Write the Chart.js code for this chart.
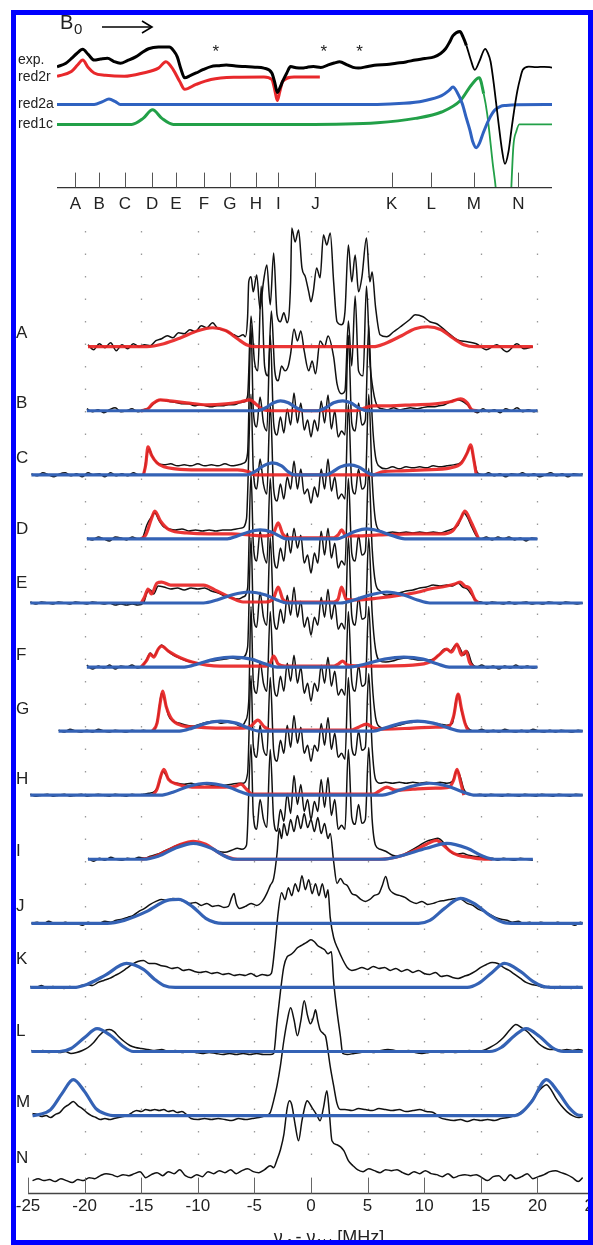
<!DOCTYPE html>
<html>
<head>
<meta charset="utf-8">
<script src="https://cdn.jsdelivr.net/npm/chart.js@4.4.0/dist/chart.umd.min.js"></script>
<style>
html,body{margin:0;padding:0;background:#fff;overflow:hidden;width:593px;height:1245px}
#top{position:absolute;left:0;top:0}
#main{position:absolute;left:0;top:215px}
#frame{position:absolute;left:11px;top:10px;width:582px;height:1235px;box-sizing:border-box;border:5px solid #0000ff;pointer-events:none}
</style>
</head>
<body>
<canvas id="top" width="593" height="230"></canvas>
<canvas id="main" width="612" height="1045"></canvas>
<div id="frame"></div>
<script>
// ---- EPR panel (field axis 0..100 across the sweep) ----
const fieldTicks = [3.7, 8.5, 13.7, 19.2, 24.0, 29.7, 34.9, 40.2, 44.7, 52.2, 67.6, 75.6, 84.2, 93.2];
const fieldLabels = ['A','B','C','D','E','F','G','H','I','J','K','L','M','N'];
const starFields = [32.1, 53.9, 61.1];
const traceNames = ['exp.', 'red2r', 'red2a', 'red1c'];

const eprExp = [[0,64.4],[1.8,66.3],[3.0,69],[4.0,71.5],[5.2,73.7],[6.3,71],[7.5,68.0],[8.8,68.5],[10.2,68.9],[11.5,67.2],[12.8,66.3],[14.3,67.8],[15.9,69.7],[17.2,72.0],[18.5,74.0],[20.5,74.9],[22.7,74.9],[23.6,72.8],[24.3,69.7],[25.0,63.5],[25.8,58.5],[27.0,59.8],[28.1,61.1],[29.6,63.0],[31.1,64.5],[32.6,65.0],[34.2,65.4],[36.1,64.8],[38.0,64.5],[40.0,64.2],[41.8,63.7],[43.4,61.1],[44.0,56],[44.5,50.7],[45.0,53],[45.6,56.7],[46.4,61],[47.2,64.5],[48.3,63.9],[49.5,63.7],[50.6,64.2],[51.8,64.5],[53.3,64.0],[54.8,65.4],[56.0,66.4],[57.1,67.1],[58.6,65.4],[59.8,64.1],[60.9,63.7],[62.8,64.6],[64.7,65.4],[66.6,65.6],[68.5,66.3],[70.5,67.0],[72.4,68.0],[74.3,68.8],[76.2,69.7],[77.5,71.5],[78.5,74.0],[79.3,77.5],[80.0,81.0],[81.4,83.2],[82.0,80.5],[82.7,75.8],[83.6,68],[84.4,62.8],[85.3,67.1],[86.5,74.0],[87.0,72],[87.6,67.1],[88.4,52],[89.2,34.3],[89.9,20],[90.5,12.6],[91.2,19],[91.8,30.8],[92.4,42],[93.0,51.6],[93.6,58.5],[94.1,62.8],[95.3,64.5],[96.8,64.2],[98.4,64.4],[100,64.0]];
const eprRed2r = [[0,59.3],[2.9,61.9],[4.2,65.5],[5.2,68.0],[6.3,64.0],[7.5,61.1],[9.8,59.9],[13.6,59.3],[17.4,61.1],[20.5,63.7],[22.0,67.1],[23.5,62.8],[24.8,56.5],[25.8,52.4],[28.1,55.0],[31.1,57.6],[35.7,58.8],[41.8,59.0],[43.4,57.6],[44.0,52],[44.5,46.4],[45.0,51],[45.6,56.7],[47.9,59.0],[53.1,59.0]];
const eprRed2a = [[0,44.3],[7.5,44.3],[9.2,45.8],[10.5,47.2],[11.8,45.8],[12.8,44.3],[64.7,44.3],[70,44.9],[74,46.2],[77.7,49.0],[79.2,51.8],[80.0,53.6],[80.8,51],[81.9,44.6],[82.7,37],[83.4,30.8],[84.0,24.5],[84.7,21.3],[85.4,24],[86.1,29.1],[87.2,36],[88.4,41.2],[89.6,43.3],[90.7,43.8],[93,44.2],[100,44.3]];
const eprRed1c = [[0,33.7],[15.1,33.7],[17.4,36.9],[19.3,41.5],[21.2,36.9],[23.5,33.7],[49.5,33.7],[64.7,34.6],[72.4,36.9],[77.7,40.3],[81.5,46.4],[83.8,55.0],[85.3,58.5],[86.2,50],[86.9,39.4],[88.0,13.5],[88.8,-5],[89.6,-40],[90.6,-60],[91.2,-35],[91.7,-5],[92.2,22.1],[92.8,30],[93.4,33.7],[100,33.7]];

// ---- ENDOR spectra, MHz vs. intensity above each baseline ----
const rowLabels = fieldLabels;

const expA = [[-19.7,2],[-19.2,-3],[-18.7,3],[-18.2,-1],[-17.7,4],[-17.2,-4],[-16.7,2],[-16.2,-2],[-15.7,3],[-15.2,0],[-14.7,2],[-14.2,1],[-13.7,6],[-13.2,8],[-12.7,11],[-12.2,9],[-11.7,14],[-11.2,13],[-10.7,17],[-10.2,15],[-9.7,21],[-9.2,19],[-8.7,24],[-8.2,18],[-7.7,17],[-7.2,14],[-6.8,12],[-6.4,10],[-6.0,12],[-5.8,10],[-5.6,30],[-5.5,65],[-5.3,70],[-5.1,55],[-4.8,72],[-4.5,38],[-4.2,65],[-3.9,82],[-3.6,42],[-3.3,94],[-3.0,32],[-2.7,25],[-2.4,34],[-2.1,24],[-1.8,65],[-1.7,119],[-1.4,105],[-1.1,117],[-0.8,79],[-0.5,70],[-0.2,55],[0,45],[0.2,55],[0.5,79],[0.8,69],[1.1,112],[1.4,102],[1.7,114],[2.0,65],[2.3,25],[2.7,22],[3.0,35],[3.3,102],[3.6,65],[3.9,92],[4.2,55],[4.5,70],[4.9,109],[5.2,65],[5.4,75],[5.7,40],[6.1,12],[6.7,10],[7.3,15],[7.9,20],[8.7,27],[9.2,32],[9.9,30],[10.5,25],[11.1,23],[12.0,15],[12.9,7],[13.8,5],[14.6,3],[15.5,-3],[16.4,2],[17.3,-5],[18.2,3],[18.8,-2],[19.6,0]];
const redA = [[-19.7,0],[-14.5,0],[-13,3],[-11.5,9],[-10,16],[-8.7,19],[-7.5,16],[-6.5,8],[-5.7,2],[-5,0],[5.5,0],[6.5,3],[8,11],[9.2,18],[10.3,20],[11.5,17],[12.5,9],[13.5,2],[14.5,0],[19.6,0]];

const expB = [[-19.8,2],[-19.3,-1],[-18.8,1],[-18.3,-2],[-17.8,1],[-17.3,3],[-16.8,-1],[-16.3,0],[-15.8,2],[-15.3,-1],[-14.8,1],[-14.3,3],[-13.8,8],[-13.3,11],[-12.8,10],[-12.3,9],[-11.8,8],[-11.3,7],[-10.8,7],[-10.3,5],[-9.8,6],[-9.3,5],[-8.8,4],[-8.3,5],[-7.8,5],[-7.3,6],[-6.8,6],[-6.3,8],[-5.9,9],[-5.6,15],[-5.3,95],[-5.0,50],[-4.7,40],[-4.4,125],[-4.1,45],[-3.8,35],[-3.5,100],[-3.2,40],[-2.9,30],[-2.6,45],[-2.3,40],[-2.0,45],[-1.8,57],[-1.5,82],[-1.2,70],[-0.9,80],[-0.6,60],[-0.2,40],[0.1,50],[0.4,37],[0.8,70],[1.2,64],[1.5,75],[2.0,54],[2.3,27],[2.7,17],[3.0,20],[3.3,90],[3.6,45],[3.9,115],[4.2,40],[4.6,35],[4.9,125],[5.2,50],[5.5,20],[5.9,4],[6.3,2],[6.8,1],[7.3,3],[7.8,1],[8.3,2],[8.8,3],[9.3,2],[9.8,3],[10.3,4],[10.8,4],[11.3,5],[11.8,6],[12.3,9],[12.8,11],[13.3,10],[13.8,6],[14.2,1],[14.7,-2],[15.2,2],[15.7,-1],[16.2,1],[16.7,-2],[17.2,2],[17.7,0],[18.2,3],[18.7,-1],[19.2,1],[19.7,-1],[20,1]];
const redB = [[-15,0],[-14.4,2],[-14,7],[-13.3,11],[-12.5,10],[-11,8],[-9.2,6],[-7.5,7],[-6.2,9],[-5.4,11],[-4.8,6],[-4.2,1],[-3.5,0],[4.0,0],[4.8,3],[5.5,5],[7,5],[9,6],[11,7],[12.3,9],[13.2,12],[13.8,8],[14.2,1],[14.7,0]];
const blueB = [[-19.8,0],[-4.8,0],[-4.0,3],[-3.3,8],[-2.7,10],[-2.0,8],[-1.3,3],[-0.6,0],[0.6,0],[1.3,3],[2.0,8],[2.8,10],[3.5,8],[4.2,3],[5.0,0],[20,0]];

const expC = [[-24.7,1],[-24.2,-1],[-23.7,2],[-23.2,0],[-22.7,-2],[-22.2,1],[-21.7,2],[-21.2,-1],[-20.7,1],[-20.2,-2],[-19.7,2],[-19.2,0],[-18.7,1],[-18.2,-2],[-17.7,2],[-17.2,-1],[-16.7,1],[-16.2,-1],[-15.7,2],[-15.2,0],[-14.8,1],[-14.5,20],[-14.3,26],[-14.0,18],[-13.6,12],[-13.0,10],[-12.4,11],[-11.8,9],[-11.2,10],[-10.6,9],[-10.0,11],[-9.4,9],[-8.8,10],[-8.2,9],[-7.6,11],[-7.0,9],[-6.4,10],[-5.9,12],[-5.6,22],[-5.3,150],[-5.1,65],[-4.8,48],[-4.5,78],[-4.2,52],[-3.9,44],[-3.6,140],[-3.3,52],[-3.0,40],[-2.7,58],[-2.4,42],[-2.1,66],[-1.8,50],[-1.5,82],[-1.2,52],[-0.9,72],[-0.6,45],[-0.3,55],[0,38],[0.3,55],[0.6,44],[0.9,74],[1.2,52],[1.5,80],[1.8,46],[2.1,64],[2.4,38],[2.7,44],[3.0,40],[3.3,140],[3.6,52],[3.9,44],[4.2,72],[4.5,50],[4.8,55],[5.1,150],[5.4,58],[5.7,18],[6.1,8],[6.6,6],[7.2,8],[7.8,6],[8.4,8],[9.0,7],[9.6,8],[10.2,7],[10.8,9],[11.4,8],[12.0,9],[12.6,10],[13.2,12],[13.7,20],[14.1,28],[14.4,15],[14.7,2],[15.2,0],[15.7,2],[16.2,-1],[16.7,1],[17.2,-2],[17.7,1],[18.2,0],[18.7,2],[19.2,-1],[19.7,1],[20.2,-2],[20.7,0],[21.2,2],[21.7,-1],[22.2,1],[22.7,-2],[23.2,1],[23.7,0],[24.0,1]];
const redC = [[-14.8,0],[-14.6,10],[-14.4,28],[-14.1,20],[-13.6,12],[-13.0,8],[-12,6],[-10,5],[-8,5],[-6.5,5],[-5.5,3],[-5,0],[5.5,0],[6.3,3],[8,4],[10,5],[12.3,7],[13.3,12],[13.8,22],[14.1,30],[14.4,14],[14.6,0]];
const blueC = [[-24.7,0],[-5.7,0],[-5.0,3],[-4.2,9],[-3.4,12],[-2.6,9],[-2.0,3],[-1.5,0],[1.3,0],[1.9,3],[2.6,8],[3.4,10],[4.2,8],[4.9,3],[5.5,0],[24,0]];

const expD = [[-19.8,1],[-19.3,-1],[-18.8,2],[-18.3,0],[-17.8,-2],[-17.3,2],[-16.8,1],[-16.3,-1],[-15.8,2],[-15.3,0],[-14.9,1],[-14.5,14],[-14.1,22],[-13.8,26],[-13.4,18],[-13.0,12],[-12.5,10],[-12.0,9],[-11.4,10],[-10.8,8],[-10.2,9],[-9.6,8],[-9.0,9],[-8.4,8],[-7.8,9],[-7.2,9],[-6.6,10],[-6.1,11],[-5.7,20],[-5.3,145],[-5.1,70],[-4.8,50],[-4.5,80],[-4.2,55],[-3.9,45],[-3.6,135],[-3.3,50],[-3.0,38],[-2.7,55],[-2.4,40],[-2.1,62],[-1.8,50],[-1.5,78],[-1.2,50],[-0.9,70],[-0.6,45],[-0.3,50],[0,36],[0.3,52],[0.6,42],[0.9,70],[1.2,50],[1.5,80],[1.8,48],[2.1,62],[2.4,40],[2.7,45],[3.0,40],[3.3,135],[3.6,55],[3.9,45],[4.2,70],[4.5,50],[4.8,55],[5.1,145],[5.4,60],[5.7,18],[6.1,8],[6.6,6],[7.2,7],[7.8,6],[8.4,7],[9.0,6],[9.6,7],[10.2,6],[10.8,7],[11.4,6],[12.0,8],[12.5,10],[13.0,14],[13.5,26],[13.8,22],[14.2,12],[14.6,3],[15.0,0],[15.5,2],[16.0,-1],[16.5,2],[17.0,0],[17.5,2],[18.0,-1],[18.5,1],[19.0,-2],[19.5,1],[20,0]];
const redD = [[-15,0],[-14.6,4],[-14.1,20],[-13.8,28],[-13.3,18],[-12.5,9],[-11,6],[-9,5],[-7,5],[-5.5,4],[-4,3],[-3.3,6],[-2.9,16],[-2.5,5],[-2,1],[2,1],[2.4,4],[2.7,9],[3.1,3],[4,3],[6,4],[9,5],[11.5,5],[12.5,8],[13.2,20],[13.6,28],[14.1,18],[14.5,8],[14.8,0]];
const blueD = [[-19.8,0],[-7.4,0],[-6.5,3],[-5.5,7],[-4.5,9],[-3.5,7],[-2.8,3],[-2.2,0],[2.3,0],[3,3],[4,8],[4.9,10],[6,8],[7,4],[8.3,0],[20,0]];

const expE = [[-24.8,1],[-24.3,-1],[-23.8,1],[-23.3,0],[-22.8,-1],[-22.3,1],[-21.8,0],[-21.3,-1],[-20.8,1],[-20.3,0],[-19.8,-1],[-19.3,1],[-18.8,0],[-18.3,-1],[-17.8,0],[-17.3,-2],[-16.8,-1],[-16.3,-2],[-15.8,-1],[-15.3,-2],[-14.8,0],[-14.5,10],[-14.2,13],[-13.9,9],[-13.5,17],[-13.0,16],[-12.4,14],[-11.8,15],[-11.2,13],[-10.6,15],[-10.0,14],[-9.4,15],[-8.8,12],[-8.2,10],[-7.6,7],[-7.0,5],[-6.4,4],[-6.0,6],[-5.6,15],[-5.3,130],[-5.1,60],[-4.8,42],[-4.5,72],[-4.2,50],[-3.9,40],[-3.6,125],[-3.3,48],[-3.0,35],[-2.7,55],[-2.4,42],[-2.1,70],[-1.8,50],[-1.5,75],[-1.2,55],[-0.9,68],[-0.6,40],[-0.3,48],[0,30],[0.3,50],[0.6,40],[0.9,72],[1.2,48],[1.5,75],[1.8,45],[2.1,60],[2.4,35],[2.7,42],[3.0,38],[3.3,125],[3.6,50],[3.9,42],[4.2,68],[4.5,48],[4.8,52],[5.1,135],[5.4,55],[5.7,20],[6.1,12],[6.6,8],[7.2,9],[7.8,10],[8.4,12],[9.0,13],[9.6,15],[10.2,16],[10.8,18],[11.4,17],[12.0,18],[12.5,17],[13.0,20],[13.4,16],[13.8,14],[14.2,8],[14.6,2],[15.0,1],[15.5,-1],[16.0,1],[16.5,0],[17.0,-1],[17.5,1],[18.0,-1],[18.5,0],[19.0,1],[19.5,-1],[20.0,0],[20.5,-1],[21.0,1],[21.5,0],[22.0,-1],[22.5,1],[23.0,0],[23.5,-1],[24.0,0]];
const redE = [[-15,0],[-14.7,6],[-14.4,14],[-14.1,9],[-13.6,20],[-13.2,21],[-12.4,18],[-11,18],[-9.5,18],[-8.3,12],[-7,5],[-6,1],[-4,1],[-3.3,5],[-2.9,16],[-2.5,4],[-2,1],[2,1],[2.4,4],[2.7,16],[3.1,4],[4,3],[6,5],[8,8],[9.5,11],[10.5,14],[12,17],[12.7,19],[13.2,21],[13.6,17],[14.0,15],[14.5,3],[14.8,0]];
const blueE = [[-24.8,0],[-9.5,0],[-8.3,3],[-7,8],[-5.5,11],[-4,8],[-3,3],[-2.1,0],[2.6,0],[3.8,3],[5.2,8],[6.7,11],[8.2,8],[9.4,3],[10.5,0],[24,0]];

const expF = [[-19.8,2],[-19.3,-2],[-18.8,1],[-18.3,-1],[-17.8,2],[-17.3,-2],[-16.8,1],[-16.3,0],[-15.8,2],[-15.3,-1],[-14.9,1],[-14.5,8],[-14.2,14],[-13.9,11],[-13.5,18],[-13.2,22],[-12.8,18],[-12.3,13],[-11.8,10],[-11.2,7],[-10.6,5],[-10.0,4],[-9.4,5],[-8.8,6],[-8.2,7],[-7.6,8],[-7.0,9],[-6.4,8],[-6.0,10],[-5.6,20],[-5.3,130],[-5.1,55],[-4.8,40],[-4.5,75],[-4.2,50],[-3.9,42],[-3.6,130],[-3.3,50],[-3.0,38],[-2.7,58],[-2.4,44],[-2.1,72],[-1.8,52],[-1.5,80],[-1.2,50],[-0.9,66],[-0.6,40],[-0.3,50],[0,32],[0.3,50],[0.6,42],[0.9,70],[1.2,50],[1.5,78],[1.8,48],[2.1,64],[2.4,38],[2.7,44],[3.0,38],[3.3,130],[3.6,52],[3.9,42],[4.2,70],[4.5,48],[4.8,50],[5.1,130],[5.4,55],[5.7,18],[6.1,6],[6.6,5],[7.2,6],[7.8,8],[8.4,9],[9.0,8],[9.6,7],[10.2,7],[10.8,8],[11.3,12],[11.8,18],[12.3,16],[12.8,22],[13.1,20],[13.5,12],[13.8,16],[14.2,4],[14.6,0],[15.1,2],[15.6,-1],[16.1,1],[16.6,-2],[17.1,1],[17.6,-1],[18.1,2],[18.6,-1],[19.1,1],[19.6,-1],[20,0]];
const redF = [[-15,0],[-14.5,7],[-14.2,13],[-13.9,10],[-13.5,18],[-13.2,21],[-12.6,16],[-11.5,9],[-10.5,5],[-9.2,2],[-8,1],[-4,1],[-3.6,4],[-3.3,11],[-2.9,3],[-2.3,1],[2,1],[2.4,3],[2.8,6],[3.2,2],[5,1],[9,2],[10.5,5],[11.3,12],[12,18],[12.4,15],[12.9,23],[13.3,12],[13.7,16],[14.0,5],[14.3,0]];
const blueF = [[-19.8,0],[-11.2,0],[-10,3],[-8.5,8],[-6.9,10],[-5.3,8],[-4,3],[-3,0],[3.4,0],[4.8,3],[6.5,8],[8.2,10],[9.9,8],[11.2,3],[12.2,0],[20,0]];

const expG = [[-22.3,1],[-21.8,-1],[-21.3,2],[-20.8,0],[-20.3,-1],[-19.8,1],[-19.3,-1],[-18.8,2],[-18.3,0],[-17.8,-1],[-17.3,1],[-16.8,0],[-16.3,-1],[-15.8,1],[-15.3,0],[-14.8,1],[-14.3,0],[-13.8,2],[-13.5,15],[-13.2,38],[-12.9,30],[-12.6,16],[-12.2,10],[-11.6,8],[-11.0,6],[-10.4,5],[-9.8,7],[-9.2,9],[-8.6,10],[-8.0,8],[-7.4,9],[-6.8,8],[-6.2,5],[-5.8,10],[-5.5,30],[-5.3,125],[-5.1,50],[-4.8,38],[-4.5,70],[-4.2,48],[-3.9,40],[-3.6,120],[-3.3,48],[-3.0,35],[-2.7,55],[-2.4,40],[-2.1,68],[-1.8,50],[-1.5,76],[-1.2,48],[-0.9,64],[-0.6,38],[-0.3,48],[0,30],[0.3,48],[0.6,40],[0.9,66],[1.2,48],[1.5,74],[1.8,45],[2.1,60],[2.4,36],[2.7,42],[3.0,36],[3.3,120],[3.6,50],[3.9,40],[4.2,66],[4.5,45],[4.8,48],[5.1,125],[5.4,50],[5.7,14],[6.1,4],[6.6,2],[7.2,4],[7.8,6],[8.4,8],[9.0,9],[9.6,10],[10.2,9],[10.8,8],[11.4,7],[12.0,6],[12.5,8],[12.8,30],[13.0,37],[13.3,20],[13.7,6],[14.1,1],[14.6,0],[15.1,2],[15.6,-1],[16.1,1],[16.6,-1],[17.1,2],[17.6,0],[18.1,-1],[18.6,1],[19.1,-1],[19.6,2],[20.1,0],[20.6,-1],[21.1,1],[21.6,-1],[22.1,1],[22.6,0],[23.1,-1],[23.6,1],[24,0]];
const redG = [[-14,0],[-13.6,8],[-13.3,30],[-13.1,40],[-12.8,25],[-12.3,12],[-11.5,6],[-10,4],[-8,3],[-6,3],[-5.3,5],[-4.7,11],[-4.1,4],[-3.5,1],[3.5,1],[4.2,4],[4.9,7],[5.6,3],[6.5,2],[9,3],[11,4],[12.2,5],[12.6,15],[13.0,37],[13.3,22],[13.6,8],[13.9,0]];
const blueG = [[-22.3,0],[-11.6,0],[-10.5,3],[-9.2,8],[-8,10],[-6.6,8],[-5.5,3],[-4.6,0],[5.5,0],[6.5,3],[8,8],[9.4,10],[10.8,8],[12.2,3],[13.2,0],[24,0]];

const expH = [[-24.8,1],[-24.3,-1],[-23.8,0],[-23.3,1],[-22.8,-1],[-22.3,0],[-21.8,1],[-21.3,-1],[-20.8,0],[-20.3,1],[-19.8,-1],[-19.3,0],[-18.8,1],[-18.3,0],[-17.8,-1],[-17.3,1],[-16.8,0],[-16.3,-1],[-15.8,1],[-15.3,0],[-14.8,1],[-14.3,2],[-13.8,4],[-13.4,12],[-13.1,24],[-12.8,20],[-12.4,14],[-11.8,12],[-11.2,11],[-10.6,12],[-10.0,10],[-9.4,11],[-8.8,10],[-8.2,9],[-7.6,10],[-7.0,11],[-6.4,12],[-6.0,12],[-5.6,22],[-5.3,120],[-5.1,50],[-4.8,38],[-4.5,70],[-4.2,46],[-3.9,40],[-3.6,118],[-3.3,45],[-3.0,34],[-2.7,55],[-2.4,42],[-2.1,70],[-1.8,48],[-1.5,80],[-1.2,52],[-0.9,68],[-0.6,42],[-0.3,50],[0,34],[0.3,50],[0.6,44],[0.9,72],[1.2,50],[1.5,78],[1.8,46],[2.1,62],[2.4,38],[2.7,42],[3.0,36],[3.3,118],[3.6,48],[3.9,40],[4.2,64],[4.5,45],[4.8,48],[5.1,122],[5.4,48],[5.7,16],[6.1,12],[6.6,13],[7.2,12],[7.8,13],[8.4,12],[9.0,13],[9.6,12],[10.2,13],[10.8,12],[11.4,13],[12.0,12],[12.5,14],[12.9,25],[13.2,18],[13.5,6],[13.9,1],[14.4,0],[14.9,1],[15.4,-1],[15.9,1],[16.4,0],[16.9,-1],[17.4,1],[17.9,0],[18.4,-1],[18.9,1],[19.4,0],[19.9,-1],[20.4,1],[20.9,0],[21.4,-1],[21.9,1],[22.4,0],[22.9,-1],[23.4,1],[24,0]];
const redH = [[-14,0],[-13.6,6],[-13.3,18],[-13.0,26],[-12.6,16],[-11.8,11],[-10,8],[-8,8],[-6.7,9],[-6.2,11],[-5.7,6],[-5.2,1],[5.5,1],[6,4],[6.7,8],[7.5,5],[9,6],[11,7],[12.2,8],[12.6,15],[12.9,26],[13.2,14],[13.5,0]];
const blueH = [[-24.8,0],[-13.3,0],[-12.2,3],[-10.8,9],[-9.2,12],[-7.5,9],[-6.1,3],[-5.1,0],[6.3,0],[7.3,3],[8.9,9],[10.5,12],[12.1,9],[13.5,3],[14.5,0],[24,0]];

const expI = [[-19.7,1],[-19.2,-2],[-18.7,1],[-18.2,-1],[-17.7,2],[-17.2,0],[-16.7,-1],[-16.2,1],[-15.7,0],[-15.2,2],[-14.7,1],[-14.2,3],[-13.6,5],[-13.0,8],[-12.4,11],[-11.8,14],[-11.2,16],[-10.6,17],[-10.0,16],[-9.4,14],[-8.8,11],[-8.2,8],[-7.6,7],[-7.0,9],[-6.5,11],[-6.1,10],[-5.7,14],[-5.3,115],[-5.1,45],[-4.8,30],[-4.5,60],[-4.2,40],[-3.9,32],[-3.6,110],[-3.3,40],[-3.0,28],[-2.7,50],[-2.4,38],[-2.1,66],[-1.8,46],[-1.5,84],[-1.2,55],[-0.9,75],[-0.6,48],[-0.3,60],[0,40],[0.3,58],[0.6,48],[0.9,80],[1.2,52],[1.5,82],[1.8,44],[2.1,60],[2.4,30],[2.7,34],[3.0,30],[3.3,110],[3.6,42],[3.9,35],[4.2,55],[4.5,36],[4.8,40],[5.1,112],[5.4,40],[5.7,14],[6.1,10],[6.6,8],[7.2,4],[7.8,3],[8.4,6],[9.0,10],[9.6,14],[10.2,18],[10.8,20],[11.2,21],[11.6,18],[12.0,12],[12.5,6],[12.9,5],[13.4,6],[13.9,4],[14.4,3],[15.0,2],[15.5,0],[16.0,1],[16.5,-1],[17.0,1],[17.5,0],[18.0,-1],[18.5,1],[19.0,0],[19.6,-1]];
const redI = [[-15,0],[-14,2],[-12.8,8],[-11.5,15],[-10.4,18],[-9.3,15],[-8.2,7],[-7.3,2],[-6.5,0],[6,0],[7.5,2],[9,8],[10.2,15],[11.1,19],[11.7,14],[12.3,8],[13,4],[14,2],[15.5,0],[16,0]];
const blueI = [[-19.7,0],[-14.8,0],[-13.5,3],[-12,11],[-10.4,16],[-8.8,11],[-7.6,3],[-6.8,0],[6.3,0],[7.8,3],[10.2,11],[12,16],[13.8,11],[15.2,3],[16.2,0],[19.6,0]];

const expJ = [[-24.7,0],[-24.2,1],[-23.7,-1],[-23.2,2],[-22.7,0],[-22.2,-1],[-21.7,1],[-21.2,-1],[-20.7,0],[-20.2,-2],[-19.7,1],[-19.2,-1],[-18.7,0],[-18.2,2],[-17.7,1],[-17.2,3],[-16.7,4],[-16.2,6],[-15.7,8],[-15.2,12],[-14.7,15],[-14.2,19],[-13.7,22],[-13.2,24],[-12.7,23],[-12.2,25],[-11.7,24],[-11.2,22],[-10.7,20],[-10.2,21],[-9.7,18],[-9.2,20],[-8.7,17],[-8.2,18],[-7.7,16],[-7.3,17],[-7.0,26],[-6.8,30],[-6.6,20],[-6.3,15],[-5.8,17],[-5.3,20],[-4.8,18],[-4.3,22],[-3.9,30],[-3.6,38],[-3.3,45],[-3.0,70],[-2.8,95],[-2.6,85],[-2.4,100],[-2.1,88],[-1.8,104],[-1.5,92],[-1.2,108],[-0.9,95],[-0.6,110],[-0.3,96],[0,104],[0.3,92],[0.6,106],[0.9,90],[1.2,100],[1.5,85],[1.7,90],[2.0,62],[2.3,40],[2.6,45],[2.9,40],[3.2,38],[3.6,30],[4.0,28],[4.4,24],[4.8,22],[5.2,24],[5.6,28],[6.0,30],[6.3,38],[6.6,47],[6.9,35],[7.3,30],[7.8,28],[8.3,26],[8.8,22],[9.3,20],[9.8,22],[10.3,19],[10.8,20],[11.3,22],[11.8,23],[12.3,24],[12.8,25],[13.3,24],[13.8,20],[14.3,18],[14.8,14],[15.3,12],[15.8,9],[16.3,6],[16.8,4],[17.3,3],[17.8,1],[18.3,2],[18.8,0],[19.3,1],[19.8,-1],[20.3,1],[20.8,0],[21.3,-1],[21.8,1],[22.3,-1],[22.8,0],[23.3,-2],[23.8,1],[24,0]];
const blueJ = [[-24.7,0],[-18,0],[-16.5,3],[-14.5,12],[-12.7,23],[-11.7,24],[-10.5,17],[-9.3,5],[-8.5,1],[-7.8,0],[9.5,0],[10.5,3],[11.8,15],[13.2,25],[14.4,20],[15.8,8],[17,1],[18,0],[24,0]];

const expK = [[-24.8,1],[-24.3,0],[-23.8,2],[-23.3,-1],[-22.8,1],[-22.3,0],[-21.8,-1],[-21.3,1],[-20.8,0],[-20.3,2],[-19.8,3],[-19.3,2],[-18.8,5],[-18.3,7],[-17.8,9],[-17.3,12],[-16.8,15],[-16.3,19],[-15.8,23],[-15.3,26],[-14.8,27],[-14.3,24],[-13.8,24],[-13.3,22],[-12.8,21],[-12.3,19],[-11.8,20],[-11.3,17],[-10.8,18],[-10.3,16],[-9.8,15],[-9.3,16],[-8.8,14],[-8.3,15],[-7.8,13],[-7.3,14],[-6.8,12],[-6.3,13],[-5.8,12],[-5.3,14],[-4.8,11],[-4.3,13],[-3.8,12],[-3.5,14],[-3.2,40],[-2.9,75],[-2.6,95],[-2.3,88],[-2.0,100],[-1.7,92],[-1.4,104],[-1.1,96],[-0.8,112],[-0.5,98],[-0.2,108],[0.1,94],[0.4,104],[0.7,92],[1.0,104],[1.3,90],[1.5,98],[1.7,70],[2.0,50],[2.4,38],[2.8,28],[3.2,20],[3.6,17],[4.0,18],[4.5,20],[5.0,18],[5.5,21],[6.0,19],[6.5,20],[7.0,17],[7.5,19],[8.0,16],[8.5,18],[9.0,15],[9.5,17],[10.0,14],[10.5,13],[11.0,15],[11.5,11],[12.0,12],[12.5,10],[13.0,9],[13.5,11],[14.0,13],[14.5,16],[15.0,20],[15.5,23],[16.0,25],[16.5,24],[17.0,20],[17.5,17],[18.0,13],[18.5,9],[19.0,5],[19.5,3],[20.0,2],[20.5,0],[21.0,1],[21.5,-1],[22.0,1],[22.5,0],[23.0,-1],[23.5,1],[24.0,-1]];
const blueK = [[-24.8,0],[-21,0],[-19.8,3],[-18.2,12],[-16.3,24],[-14.8,18],[-13.8,8],[-13,2],[-12,0],[13.8,0],[14.8,4],[16,15],[17.1,24],[18.5,16],[19.6,6],[20.5,1],[21.5,0],[24,0]];

const expL = [[-24.7,1],[-24.2,0],[-23.7,1],[-23.2,-1],[-22.7,0],[-22.2,-1],[-21.7,0],[-21.2,-2],[-20.7,-1],[-20.2,1],[-19.7,4],[-19.2,9],[-18.7,16],[-18.2,21],[-17.8,22],[-17.4,20],[-17.0,15],[-16.5,10],[-16.0,6],[-15.5,4],[-15.0,3],[-14.4,2],[-13.8,1],[-13.2,2],[-12.6,0],[-12.0,1],[-11.4,-1],[-10.8,0],[-10.2,-1],[-9.6,-2],[-9.0,-1],[-8.4,-2],[-7.8,-3],[-7.2,-2],[-6.6,-3],[-6.0,-2],[-5.4,-3],[-4.8,-2],[-4.2,-3],[-3.6,-3],[-3.3,-2],[-3.0,30],[-2.7,60],[-2.4,85],[-2.1,95],[-1.8,97],[-1.5,100],[-1.2,104],[-0.9,106],[-0.6,108],[-0.3,110],[0,112],[0.3,110],[0.6,106],[0.9,104],[1.2,102],[1.5,98],[1.8,100],[2.0,70],[2.3,40],[2.6,15],[2.8,-2],[3.2,-3],[3.8,-2],[4.4,-1],[5.0,0],[5.6,-1],[6.2,1],[6.8,2],[7.4,1],[8.0,0],[8.6,1],[9.2,-1],[9.8,-2],[10.4,-1],[11.0,0],[11.6,-1],[12.2,0],[12.8,-1],[13.4,0],[14.0,1],[14.6,0],[15.2,1],[15.8,4],[16.4,8],[17.0,14],[17.6,22],[18.1,27],[18.6,24],[19.1,20],[19.6,14],[20.1,8],[20.6,4],[21.1,2],[21.6,2],[22.1,1],[22.6,2],[23.1,1],[23.6,2],[24,1]];
const blueL = [[-24.7,0],[-22.2,0],[-21.2,3],[-20,14],[-18.9,23],[-17.7,16],[-16.6,5],[-15.7,0],[15.8,0],[16.8,4],[18,16],[19,23],[20.2,15],[21.3,4],[22.3,0],[24,0]];

const expM = [[-24.6,2],[-24.2,1],[-23.8,-1],[-23.4,0],[-23.0,-2],[-22.6,1],[-22.2,3],[-21.8,8],[-21.4,11],[-21.0,14],[-20.6,10],[-20.2,7],[-19.8,3],[-19.4,0],[-19.0,-2],[-18.6,-4],[-18.2,-3],[-17.8,-4],[-17.4,-3],[-17.0,-2],[-16.6,-1],[-16.2,0],[-15.8,3],[-15.4,5],[-15.0,4],[-14.6,6],[-14.2,5],[-13.8,6],[-13.4,5],[-13.0,6],[-12.6,4],[-12.2,5],[-11.8,3],[-11.4,4],[-11.0,1],[-10.6,-3],[-10.0,-4],[-9.4,-3],[-8.8,-4],[-8.2,-3],[-7.6,-4],[-7.0,-5],[-6.4,-3],[-5.8,-4],[-5.2,-3],[-4.6,-2],[-4.0,0],[-3.6,3],[-3.3,15],[-3.0,30],[-2.7,50],[-2.4,75],[-2.1,95],[-1.8,108],[-1.5,96],[-1.2,80],[-0.9,95],[-0.6,115],[-0.3,100],[-0.05,92],[0.2,98],[0.4,106],[0.6,95],[0.8,86],[1.1,82],[1.3,79],[1.5,65],[1.7,49],[2.0,30],[2.3,12],[2.6,6],[3.0,6],[3.6,5],[4.2,7],[4.8,6],[5.4,5],[6.0,7],[6.6,6],[7.2,5],[7.8,6],[8.4,4],[9.0,5],[9.6,6],[10.2,4],[10.8,3],[11.4,-2],[12.0,-4],[12.6,-5],[13.2,-4],[13.8,-6],[14.4,-4],[15.0,-5],[15.6,-4],[16.2,-5],[16.8,-3],[17.4,-2],[18.0,0],[18.6,4],[19.2,10],[19.8,20],[20.4,28],[20.8,31],[21.2,26],[21.6,18],[22.1,10],[22.6,4],[23.1,0],[23.6,-2],[24.0,-1]];
const blueM = [[-24.6,0],[-24,1],[-23,6],[-22,22],[-21,36],[-20,24],[-19,7],[-18,1],[-17.5,0],[18,0],[18.5,2],[19.5,14],[20.8,36],[21.8,24],[22.8,8],[23.5,1],[24,0]];

const expN = [[-24.6,-1],[-24.1,1],[-23.6,-1],[-23.1,0],[-22.6,-2],[-22.1,1],[-21.6,-1],[-21.1,-3],[-20.6,0],[-20.1,-1],[-19.6,2],[-19.1,1],[-18.6,4],[-18.1,6],[-17.6,5],[-17.1,3],[-16.6,5],[-16.1,4],[-15.6,6],[-15.1,8],[-14.6,2],[-14.1,5],[-13.6,7],[-13.1,4],[-12.6,8],[-12.1,6],[-11.6,10],[-11.1,4],[-10.6,2],[-10.1,5],[-9.6,3],[-9.1,8],[-8.6,6],[-8.1,9],[-7.6,7],[-7.1,10],[-6.6,6],[-6.1,9],[-5.6,11],[-5.1,8],[-4.6,7],[-4.1,10],[-3.6,14],[-3.3,12],[-3.0,20],[-2.7,30],[-2.4,45],[-2.1,72],[-1.9,79],[-1.7,75],[-1.4,55],[-1.1,39],[-0.8,59],[-0.5,75],[-0.35,79],[0.1,72],[0.5,65],[0.8,59],[1.1,72],[1.4,89],[1.6,70],[1.85,39],[2.3,35],[2.9,29],[3.3,19],[3.7,14],[4.1,10],[4.6,8],[5.1,11],[5.6,9],[6.1,7],[6.6,10],[7.1,9],[7.6,10],[8.1,7],[8.6,5],[9.1,8],[9.6,6],[10.1,9],[10.6,6],[11.1,5],[11.6,3],[12.1,6],[12.6,2],[13.1,4],[13.6,5],[14.1,4],[14.6,5],[15.1,2],[15.6,-1],[16.1,3],[16.6,4],[17.1,-1],[17.6,5],[18.1,1],[18.6,3],[19.1,6],[19.6,1],[20.1,3],[20.6,5],[21.1,8],[21.6,9],[22.1,7],[22.6,5],[23.1,2],[23.6,-2],[24.0,2]];

// ---- layout / style ----
const FONT = "'Liberation Sans', Arial, sans-serif";
const rowGap = 64.23;
const letterLift = [13, 7, 17, 10, 20, 12, 22, 16, 8, 17, 28, 20, 13, 21];
const labelShift = [-7, 1, 0, 0];

const rows = [
  {exp: expA, red: redA, blue: null},
  {exp: expB, red: redB, blue: blueB},
  {exp: expC, red: redC, blue: blueC},
  {exp: expD, red: redD, blue: blueD},
  {exp: expE, red: redE, blue: blueE},
  {exp: expF, red: redF, blue: blueF},
  {exp: expG, red: redG, blue: blueG},
  {exp: expH, red: redH, blue: blueH},
  {exp: expI, red: redI, blue: blueI},
  {exp: expJ, red: null, blue: blueJ},
  {exp: expK, red: null, blue: blueK},
  {exp: expL, red: null, blue: blueL},
  {exp: expM, red: null, blue: blueM},
  {exp: expN, red: null, blue: null}
];

const toXY = pts => pts.map(p => ({x: p[0], y: p[1]}));

// top EPR chart
let topChart = new Chart(document.getElementById('top'), {
  type: 'line',
  data: {
    datasets: [
      {data: toXY(eprExp), borderColor: '#000', borderWidth: 3, order: 1,
       segment: {borderWidth: c => c.p0.parsed.x > 82 ? 1.8 : 3}},
      {data: toXY(eprRed2r), borderColor: '#e8282b', borderWidth: 3, order: 2},
      {data: toXY(eprRed2a), borderColor: '#2f62c0', borderWidth: 3, order: 2},
      {data: toXY(eprRed1c), borderColor: '#22a048', borderWidth: 3, order: 2,
       segment: {borderWidth: c => c.p0.parsed.x > 86 ? 1.8 : 3}}
    ]
  },
  options: {
    responsive: false, animation: false,
    layout: {padding: {left: 57, right: 41, top: 0, bottom: 8}},
    elements: {point: {radius: 0}, line: {cubicInterpolationMode: 'monotone'}},
    plugins: {legend: {display: false}, tooltip: {enabled: false}},
    scales: {
      x: {type: 'linear', min: 0, max: 100,
          afterBuildTicks: s => { s.ticks = fieldTicks.map(v => ({value: v})); },
          ticks: {autoSkip: false, maxRotation: 0, padding: 7, color: '#222',
                  font: {family: FONT, size: 17},
                  callback: (v, i) => fieldLabels[i]},
          grid: {display: false, drawTicks: false}, border: {display: false}},
      y: {display: false, min: 0, max: 100}
    }
  },
  plugins: [{
    id: 'eprDecor',
    afterDraw(chart) {
      const ctx = chart.ctx, a = chart.chartArea, xs = chart.scales.x, ys = chart.scales.y;
      ctx.save();
      ctx.strokeStyle = '#333'; ctx.lineWidth = 1.4;
      ctx.beginPath(); ctx.moveTo(a.left, a.bottom); ctx.lineTo(a.right, a.bottom); ctx.stroke();
      ctx.strokeStyle = '#555'; ctx.lineWidth = 1;
      fieldTicks.forEach(v => {
        const px = Math.round(xs.getPixelForValue(v)) + 0.5;
        ctx.beginPath(); ctx.moveTo(px, a.bottom); ctx.lineTo(px, a.bottom - 15); ctx.stroke();
      });
      // trace names at the start of each trace
      ctx.fillStyle = '#222'; ctx.font = '14px ' + FONT;
      ctx.textAlign = 'left'; ctx.textBaseline = 'middle';
      [eprExp, eprRed2r, eprRed2a, eprRed1c].forEach((t, i) => {
        ctx.fillText(traceNames[i], 18, ys.getPixelForValue(t[0][1]) + labelShift[i]);
      });
      // stars
      ctx.textAlign = 'center'; ctx.font = '17px ' + FONT;
      starFields.forEach(f => ctx.fillText('*', xs.getPixelForValue(f), ys.getPixelForValue(74) + 4));
      // B0 arrow
      ctx.textAlign = 'left'; ctx.textBaseline = 'alphabetic';
      ctx.font = '20px ' + FONT; ctx.fillText('B', 60, 29);
      ctx.font = '15px ' + FONT; ctx.fillText('0', 74, 34);
      ctx.strokeStyle = '#000'; ctx.lineWidth = 1.6;
      ctx.beginPath(); ctx.moveTo(102, 27); ctx.lineTo(151, 27); ctx.stroke();
      ctx.beginPath(); ctx.moveTo(142, 21); ctx.lineTo(152, 27); ctx.lineTo(142, 33); ctx.stroke();
      ctx.restore();
    }
  }]
});

// main ENDOR chart
const datasets = [];
rows.forEach((r, i) => {
  const off = -i * rowGap;
  const shift = pts => pts.map(p => ({x: p[0], y: p[1] + off}));
  datasets.push({data: shift(r.exp), borderColor: '#111', borderWidth: 1.5, order: 3, cubicInterpolationMode: 'monotone'});
  if (r.red) datasets.push({data: shift(r.red), borderColor: 'rgba(232,36,36,0.92)', borderWidth: 3.2, order: 2, cubicInterpolationMode: 'monotone'});
  if (r.blue) datasets.push({data: shift(r.blue), borderColor: '#3462b5', borderWidth: 3.2, order: 1, cubicInterpolationMode: 'monotone'});
});

let mainChart = new Chart(document.getElementById('main'), {
  type: 'line',
  data: {datasets: datasets},
  options: {
    responsive: false, animation: false,
    layout: {padding: {left: 28, right: 18, top: 10, bottom: 40}},
    elements: {point: {radius: 0}},
    plugins: {legend: {display: false}, tooltip: {enabled: false}},
    scales: {
      x: {type: 'linear', min: -25, max: 25,
          ticks: {stepSize: 5, padding: 3, color: '#222', maxRotation: 0, font: {family: FONT, size: 17}},
          grid: {display: false, drawTicks: false}, border: {display: false}},
      y: {display: false, min: -849, max: 122}
    }
  },
  plugins: [{
    id: 'endorDecor',
    beforeDatasetsDraw(chart) {
      const ctx = chart.ctx, a = chart.chartArea, xs = chart.scales.x;
      ctx.save();
      ctx.strokeStyle = '#999'; ctx.lineWidth = 1.3; ctx.setLineDash([1.5, 21]);
      for (let v = -20; v <= 20; v += 5) {
        const px = Math.round(xs.getPixelForValue(v)) + 0.5;
        ctx.beginPath(); ctx.moveTo(px, a.top + 6); ctx.lineTo(px, a.bottom - 18); ctx.stroke();
      }
      ctx.restore();
    },
    afterDraw(chart) {
      const ctx = chart.ctx, a = chart.chartArea, xs = chart.scales.x, ys = chart.scales.y;
      ctx.save();
      ctx.strokeStyle = '#444'; ctx.lineWidth = 1.5;
      ctx.beginPath(); ctx.moveTo(a.left, a.bottom); ctx.lineTo(a.right, a.bottom); ctx.stroke();
      ctx.strokeStyle = '#666'; ctx.lineWidth = 1;
      for (let v = -25; v <= 25; v += 5) {
        const px = Math.round(xs.getPixelForValue(v)) + 0.5;
        ctx.beginPath(); ctx.moveTo(px, a.bottom); ctx.lineTo(px, a.bottom - 16); ctx.stroke();
      }
      // row letters
      ctx.fillStyle = '#222'; ctx.font = '17px ' + FONT;
      ctx.textAlign = 'left'; ctx.textBaseline = 'middle';
      rowLabels.forEach((l, i) => ctx.fillText(l, 16, ys.getPixelForValue(-i * rowGap) - letterLift[i]));
      // axis title  v_rf - v_1H [MHz]
      ctx.textBaseline = 'alphabetic';
      let x = xs.getPixelForValue(-3.3);
      const y = a.bottom + 49;
      const part = (t, size, dy) => { ctx.font = size + 'px ' + FONT; ctx.fillText(t, x, y + dy); x += ctx.measureText(t).width; };
      part('\u03bd', 18, 0); part('rf', 13, 5); part(' - \u03bd', 18, 0); part('1H', 13, 5); part(' [MHz]', 18, 0);
      ctx.restore();
    }
  }]
});
</script>
</body>
</html>
